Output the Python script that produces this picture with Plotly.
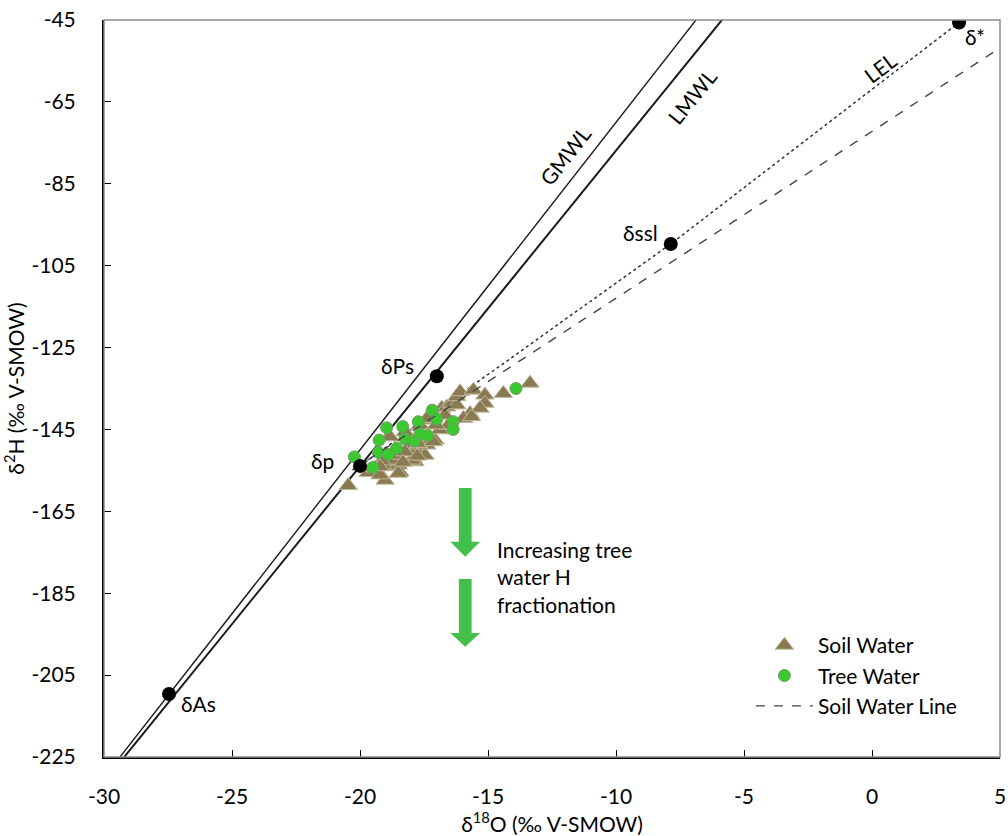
import plotly.graph_objects as go

# ---------------- data ----------------
soil_x = [-20.46, -19.68, -19.02, -18.89, -18.50, -18.70, -19.15, -19.41, -18.83, -17.92,
          -17.79, -17.85, -18.05, -17.46, -17.39, -17.66, -17.27, -18.24, -17.07, -16.88,
          -17.27, -16.81, -16.61, -16.42, -16.22, -16.22, -16.09, -15.57, -15.12, -15.12,
          -14.40, -13.36, -15.70, -15.31, -15.96, -15.64, -17.98, -17.72, -17.14, -17.39,
          -16.55, -19.22, -18.44, -18.63, -18.24, -17.03, -16.68, -19.22, -18.50, -17.76,
          -18.32]
soil_y = [-158.7, -155.5, -157.4, -154.1, -153.7, -152.5, -152.7, -154.4, -146.8, -151.7,
          -150.0, -152.9, -148.8, -151.3, -148.8, -143.9, -146.8, -145.6, -147.6, -145.1,
          -142.7, -139.8, -139.5, -138.6, -139.0, -137.0, -135.8, -135.4, -136.6, -138.6,
          -136.2, -133.7, -141.1, -139.8, -142.3, -141.9, -152.5, -148.4, -148.0, -142.3,
          -143.9, -156.1, -155.4, -151.3, -150.5, -143.9, -141.5, -154.1, -155.7, -151.5,
          -153.0]

tree_x = [-20.22, -19.50, -19.25, -18.96, -19.29, -18.89, -18.57, -18.33, -18.24, -17.85,
          -17.72, -17.66, -17.37, -17.18, -17.00, -16.36, -16.36, -13.91]
tree_y = [-151.7, -154.3, -147.6, -144.6, -150.6, -151.1, -149.6, -144.3, -147.3, -147.8,
          -143.1, -146.1, -146.5, -140.3, -142.5, -143.1, -145.0, -135.0]

# key points: δp, δPs, δAs, δssl, δ*
point_names = ["δp", "δPs", "δAs", "δssl", "δ*"]
point_x = [-20.0, -17.0, -27.46, -7.86, 3.40]
point_y = [-153.9, -132.0, -209.6, -99.7, -45.6]

# meteoric water lines  (δ2H = slope * δ18O + intercept)
gmwl_slope, gmwl_intercept = 8.0, 10.0
lmwl_slope, lmwl_intercept = 7.71, 0.2
mwl_x_range = [-31.0, 0.0]

# local evaporation line passes δp -> δssl -> δ*
lel_x = [point_x[0], point_x[3], point_x[4]]
lel_y = [point_y[0], point_y[3], point_y[4]]

# soil water line (regression)
swl_slope, swl_intercept = 4.075, -72.2
swl_x_range = [-20.3, 5.0]

x_ticks = [-30, -25, -20, -15, -10, -5, 0, 5]
y_ticks = [-45, -65, -85, -105, -125, -145, -165, -185, -205, -225]

FONT = "Lato"
FS = 21

fig = go.Figure()

gx = mwl_x_range
fig.add_trace(go.Scatter(x=gx, y=[gmwl_slope * v + gmwl_intercept for v in gx], mode="lines",
                         line=dict(color="#1a1a1a", width=1.4), showlegend=False, hoverinfo="skip"))
fig.add_trace(go.Scatter(x=gx, y=[lmwl_slope * v + lmwl_intercept for v in gx], mode="lines",
                         line=dict(color="#1a1a1a", width=2), showlegend=False, hoverinfo="skip"))
fig.add_trace(go.Scatter(x=lel_x, y=lel_y, mode="lines",
                         line=dict(color="#333333", width=1.5, dash="dot"), showlegend=False, hoverinfo="skip"))

fig.add_trace(go.Scatter(x=soil_x, y=soil_y, mode="markers", name="Soil Water",
                         marker=dict(symbol="triangle-up", size=16, color="#8a7a52",
                                     line=dict(color="#c2b99c", width=1))))
fig.add_trace(go.Scatter(x=tree_x, y=tree_y, mode="markers", name="Tree Water",
                         marker=dict(symbol="circle", size=12, color="#3cc92f",
                                     line=dict(color="#6f9a66", width=1))))
sx = swl_x_range
fig.add_trace(go.Scatter(x=sx, y=[swl_slope * v + swl_intercept for v in sx], mode="lines",
                         name="Soil Water Line",
                         line=dict(color="#444444", width=1.4, dash="dash")))
fig.add_trace(go.Scatter(x=point_x, y=point_y, mode="markers", showlegend=False,
                         marker=dict(size=14, color="black"), hoverinfo="skip"))

# point labels
label_pos = {"δp": (-21.48, -152.5), "δPs": (-18.52, -129.3), "δAs": (-26.32, -211.9),
             "δssl": (-9.04, -97.0), "δ*": (4.02, -49.0)}
for name in point_names:
    lx, ly = label_pos[name]
    fig.add_annotation(x=lx, y=ly, text=name, showarrow=False,
                       font=dict(family=FONT, size=FS, color="black"))

# line labels
for txt, lx, ly, ang in [("GMWL", -12.0, -78.0, -52), ("LMWL", -7.03, -63.8, -51),
                         ("LEL", 0.31, -56.5, -37)]:
    fig.add_annotation(x=lx, y=ly, text=txt, showarrow=False, textangle=ang,
                       font=dict(family=FONT, size=FS, color="black"))

# green block arrows
def arrow_path(xc, ytop, yhead, ytip, hw=0.25, hh=0.58):
    return (f"M {xc-hw},{ytop} L {xc+hw},{ytop} L {xc+hw},{yhead} L {xc+hh},{yhead} "
            f"L {xc},{ytip} L {xc-hh},{yhead} L {xc-hw},{yhead} Z")

for ytop, yhead, ytip in [(-159.3, -172.4, -176.1), (-181.5, -194.7, -198.1)]:
    fig.add_shape(type="path", path=arrow_path(-15.89, ytop, yhead, ytip),
                  xref="x", yref="y", fillcolor="#42c04b", line=dict(width=0), layer="above")

fig.add_annotation(x=-14.73, y=-181.0, text="Increasing tree<br>water H<br>fractionation",
                   showarrow=False, xanchor="left", yanchor="middle", align="left",
                   font=dict(family=FONT, size=FS, color="black"))

# plot frame (top/right grey)
fig.add_shape(type="rect", xref="paper", yref="paper", x0=0, y0=0, x1=1, y1=1,
              line=dict(color="#8c8c8c", width=1.5), layer="above")

fig.update_xaxes(range=[-30, 5], tickvals=x_ticks, ticktext=[str(v) for v in x_ticks],
                 ticks="inside", ticklen=7, tickcolor="black", showgrid=False, zeroline=False,
                 showline=True, linecolor="black", linewidth=2, ticklabelstandoff=20,
                 ticklabeloverflow="allow", automargin=False,
                 tickfont=dict(family=FONT, size=FS, color="black"),
                 title=dict(text="δ<sup>18</sup>O (‰ V-SMOW)", standoff=4,
                            font=dict(family=FONT, size=FS, color="black")))
fig.update_yaxes(range=[-225, -45], tickvals=y_ticks, ticktext=[str(v) for v in y_ticks],
                 ticks="inside", ticklen=7, tickcolor="black", showgrid=False, zeroline=False,
                 showline=True, linecolor="black", linewidth=2, ticklabelstandoff=22,
                 ticklabeloverflow="allow", automargin=False,
                 tickfont=dict(family=FONT, size=FS, color="black"),
                 title=dict(text="δ<sup>2</sup>H (‰ V-SMOW)", standoff=4,
                            font=dict(family=FONT, size=FS, color="black")))

fig.update_layout(
    width=1008, height=836, autosize=False,
    margin=dict(l=104, r=8, t=20, b=79, autoexpand=False),
    plot_bgcolor="white", paper_bgcolor="white",
    font=dict(family=FONT, size=FS, color="black"),
    legend=dict(x=0.722, y=0.179, xanchor="left", yanchor="top", itemwidth=57,
                bgcolor="rgba(0,0,0,0)", font=dict(family=FONT, size=FS, color="black")),
)

fig.write_html("out.html",
               config={"displayModeBar": False, "responsive": False},
               post_script="document.body.style.margin='0';document.body.style.overflow='hidden';")
